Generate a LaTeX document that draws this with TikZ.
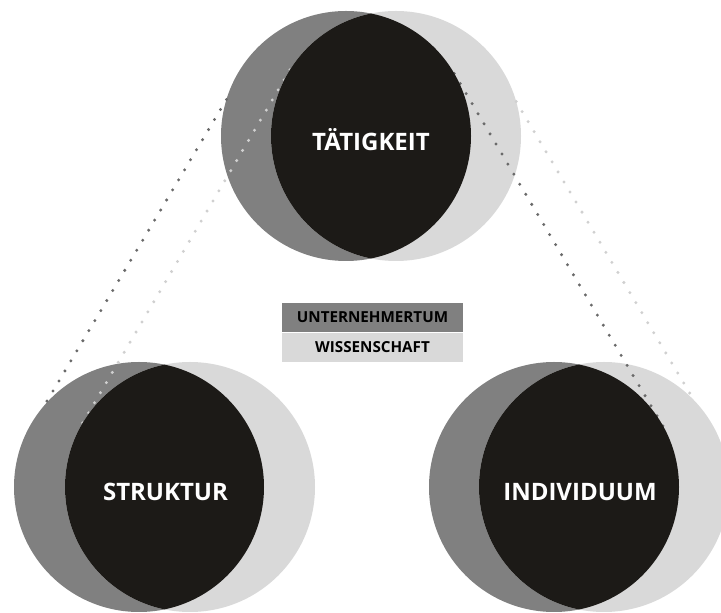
\documentclass[tikz,border=0pt]{standalone}
\usepackage{fontspec}
\setmainfont{Open Sans}
\usetikzlibrary{calc}
\usetikzlibrary{positioning}
\definecolor{dgrey}{HTML}{808080}
\definecolor{lgrey}{HTML}{D9D9D9}
\definecolor{lensblack}{HTML}{1C1A17}
\definecolor{dotdark}{HTML}{6A6A6A}
\definecolor{dotlight}{HTML}{D0D0D0}

\begin{document}
\begin{tikzpicture}[line cap=round,line join=round,x=1pt,y=1pt,
  disc/.style={circle,minimum size=250pt,inner sep=0pt,outer sep=0pt},
  lbl/.style={text=white,font=\bfseries\fontsize{24}{28}\selectfont},
  dotline/.style={line width=3.3pt,line cap=round,dash pattern=on 0pt off 11.7pt},
  legend/.style={minimum width=181pt,minimum height=29.5pt,inner sep=0pt,font=\bfseries\fontsize{15.2}{17}\selectfont}]
\useasboundingbox (0,0) rectangle (721,613);
\clip (0,0) rectangle (721,613);
% circles
\node[disc,fill=dgrey] (tDark) at (346,477) {};
\node[disc,fill=lgrey] (tLight) at (396,477) {};
\node[disc,fill=dgrey] (lDark) at (139,126) {};
\node[disc,fill=lgrey] (lLight) at (190,126) {};
\node[disc,fill=dgrey] (rDark) at (554,126) {};
\node[disc,fill=lgrey] (rLight) at (604,126) {};
% dotted links
\draw[dotline,color=dotdark] (tDark.163.8) -- (lDark.139.8);
\draw[dotline,color=dotlight] (tLight.148.8) -- (lLight.151);
\draw[dotline,color=dotdark] (tDark.30.4) -- (rDark.28.8);
\draw[dotline,color=dotlight] (tLight.16.4) -- (rLight.44.4);
% black lenses
\begin{scope}
\clip (tDark.center) circle (125);
\fill[lensblack] (tLight.center) circle (125);
\end{scope}
\begin{scope}
\clip (lDark.center) circle (125);
\fill[lensblack] (lLight.center) circle (125);
\end{scope}
\begin{scope}
\clip (rDark.center) circle (125);
\fill[lensblack] (rLight.center) circle (125);
\end{scope}
\node[lbl] (taet) at ($(tDark)!0.5!(tLight)+(0,-4)$) {TÄTIGKEIT};
\node[lbl] (strukt) at ($(lDark)!0.5!(lLight)+(1,-5)$) {STRUKTUR};
\node[lbl] (indiv) at ($(rDark)!0.5!(rLight)+(1,-5)$) {INDIVIDUUM};
% legend
\node[legend,fill=dgrey] (unt) at (372.5,295.5) {UNTERNEHMERTUM};
\node[legend,fill=lgrey,below=0pt of unt] (wiss) {WISSENSCHAFT};
\end{tikzpicture}
\end{document}
